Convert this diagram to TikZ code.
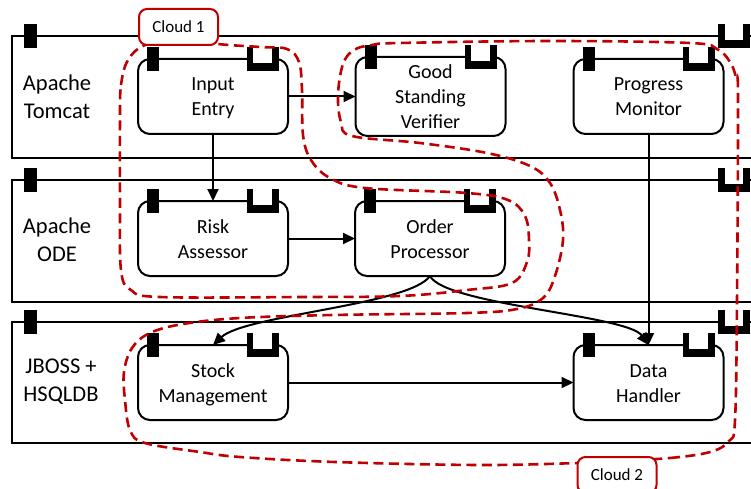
\documentclass[tikz,border=0pt]{standalone}
\usepackage{fontspec}
\setmainfont{Carlito}
\usetikzlibrary{arrows.meta}
\definecolor{cloudred}{HTML}{C00000}
\newcommand\compboxtext[1]{\begin{tabular}{@{}c@{}}\rule{0pt}{21.5pt}#1\end{tabular}}
\begin{document}
\begin{tikzpicture}[x=1pt,y=-1pt,
  lanebox/.style={draw, line width=2.7pt, minimum width=800pt, minimum height=122pt, anchor=north west, outer sep=0pt, inner sep=0pt},
  compbox/.style={draw, line width=2pt, rounded corners=12pt, minimum width=150pt, minimum height=75pt, outer sep=0pt, inner sep=0pt, font=\fontsize{20}{25}\selectfont},
  lanelabel/.style={align=center, font=\fontsize{22.5}{28}\selectfont},
  flow/.style={line width=2pt, -{Triangle[length=12pt, width=11pt]}},
  cloudline/.style={cloudred, line width=2.6pt, dash pattern=on 10pt off 5.5pt, line cap=butt},
  cloudlabel/.style={draw=cloudred, line width=2pt, rounded corners=8pt, fill=white, minimum width=79pt, minimum height=36pt, inner sep=0pt, font=\fontsize{17}{20}\selectfont}
]
\useasboundingbox (0,0) rectangle (751,489);
\clip (0,0) rectangle (751,489);

% lanes
\node[lanebox] (l1) at (12,36) {};
\node[lanebox] (l2) at (12,180) {};
\node[lanebox, minimum height=121pt] (l3) at (12,322) {};
\foreach \l in {l1,l2,l3} {
  \fill ([shift={(12,-12)}]\l.north west) rectangle ([shift={(25,12)}]\l.north west);
}
\foreach \yy in {36,180,322} {
  \fill (718,\yy-12) rectangle (750,\yy+12);
  \fill[white] (725,\yy-13) rectangle (743,\yy+4);
}

% lane labels
\node[lanelabel] (t1) at (57,97) {Apache\\Tomcat};
\node[lanelabel] (t2) at (57,240) {Apache\\ODE};
\node[lanelabel] (t3) at (61,382) {JBOSS +\\HSQLDB};

% components
\node[compbox] (ie) at (213,96.5) {\compboxtext{Input\\Entry}};
\node[compbox] (gsv) at (430.5,96.5) {\compboxtext{Good\\Standing\\Verifier}};
\node[compbox] (pm) at (648.5,96.5) {\compboxtext{Progress\\Monitor}};
\node[compbox] (ra) at (213,238.5) {\compboxtext{Risk\\Assessor}};
\node[compbox] (op) at (430,238.5) {\compboxtext{Order\\Processor}};
\node[compbox] (sm) at (213,382.5) {\compboxtext{Stock\\Management}};
\node[compbox] (dh) at (648.5,382.5) {\compboxtext{Data\\Handler}};

\foreach \b in {ie,gsv,pm,ra,op,sm,dh} {
  \fill ([shift={(9,-12)}]\b.north west) rectangle ([shift={(21,12)}]\b.north west);
  \fill ([shift={(-41,-12)}]\b.north east) rectangle ([shift={(-9,12)}]\b.north east);
  \fill[white] ([shift={(-35,-13)}]\b.north east) rectangle ([shift={(-16,4)}]\b.north east);
}

% connectors
\draw[flow] (ie.east) -- (gsv.west);
\draw[flow] (ie.south) -- (ra.north);
\draw[flow] (ra.east) -- (op.west);
\draw[flow] (pm.south) -- (dh.north);
\draw[flow] (sm.east) -- (dh.west);
\draw[flow] (op.south) .. controls +(-20,29) and +(32,-30) .. (sm.north);
\draw[flow] (op.south) .. controls +(15,29) and +(-21,-30) .. (dh.north);

% clouds
\draw[cloudline] plot[smooth cycle, tension=0.6] coordinates {
  (120,120) (121,85) (128,60) (145,45) (178,38) (218,44) (260,47) (287,49)
  (299,62) (302,90) (303,135) (311,160) (330,178) (365,188) (467,193)
  (508,200) (525,216) (529,240) (527,262) (512,283) (467,290) (400,296)
  (300,297) (160,297) (131,290) (121,270) (120,200)};

\draw[cloudline] plot[smooth cycle, tension=0.6] coordinates {
  (617,461) (670,458) (710,452) (729,441) (735,420) (737,300) (738,100)
  (736,78) (730,62) (717,49) (690,43) (550,41) (400,43) (372,45) (354,50)
  (343,64) (338,95) (341,122) (352,136) (420,143) (487,153) (530,166)
  (550,183) (560,210) (563,240) (555,276) (543,298) (517,309) (467,313)
  (333,315) (240,318) (183,324) (150,333) (132,348) (124,372) (125,400)
  (130,430) (145,443) (200,452) (240,457) (335,462) (479,465) (578,463)};

\node[cloudlabel] (c1) at (178.5,27) {Cloud 1};
\node[cloudlabel] (c2) at (617,475) {Cloud 2};
\end{tikzpicture}
\end{document}
